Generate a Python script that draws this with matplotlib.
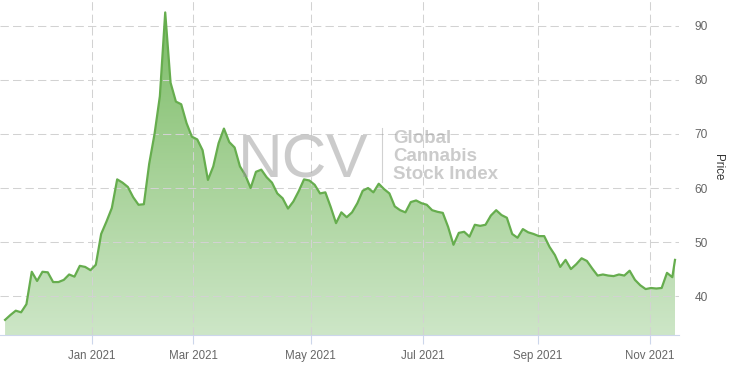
import numpy as np
import pandas as pd
import matplotlib
matplotlib.use("Agg")
import matplotlib.pyplot as plt
from matplotlib.colors import LinearSegmentedColormap

plt.rcParams['font.family'] = ['Liberation Sans', 'DejaVu Sans']

# ---- data: NCV Global Cannabis Stock Index, one year of trading days ----
holidays = ['2020-11-26', '2020-12-25', '2021-01-01', '2021-01-18', '2021-02-15',
            '2021-04-02', '2021-05-31', '2021-07-05', '2021-09-06']
trading_days = pd.bdate_range('2020-11-13', '2021-11-12', freq='C', holidays=holidays)

# price for every second trading day (plus the last day)
price = [
    35.6, 36.5, 37.3, 37.0, 38.5, 44.5, 42.8, 44.5, 44.4, 42.6,
    42.6, 43.0, 44.0, 43.6, 45.6, 45.4, 44.8, 45.8, 51.5, 53.8,
    56.3, 61.6, 61.0, 60.2, 58.3, 56.9, 57.0, 64.5, 70.0, 77.0,
    92.5, 79.5, 76.0, 75.5, 72.0, 69.5, 69.0, 67.0, 61.5, 64.0,
    68.3, 71.0, 68.5, 67.5, 64.0, 62.4, 60.0, 63.0, 63.4, 62.0,
    61.0, 59.0, 58.1, 56.2, 57.5, 59.4, 61.6, 61.4, 60.6, 59.0,
    59.2, 56.5, 53.5, 55.5, 54.6, 55.5, 57.2, 59.5, 60.0, 59.2,
    60.8, 59.8, 59.0, 56.6, 55.9, 55.5, 57.4, 57.7, 57.2, 56.9,
    55.9, 55.6, 55.4, 52.8, 49.5, 51.7, 51.9, 51.0, 53.2, 53.0,
    53.2, 54.9, 55.9, 55.0, 54.5, 51.5, 50.8, 52.4, 51.8, 51.5,
    51.1, 51.1, 49.1, 47.6, 45.4, 46.7, 45.0, 45.9, 47.0, 46.5,
    45.1, 43.8, 44.0, 43.8, 43.7, 44.0, 43.8, 44.7, 43.0, 42.0,
    41.3, 41.5, 41.4, 41.5, 44.3, 43.5, 46.7,
]
sample_idx = np.r_[np.arange(0, len(trading_days), 2), len(trading_days) - 1]
sample_dates = trading_days[sample_idx]

month_ticks = ['2021-01-01', '2021-03-01', '2021-05-01', '2021-07-01', '2021-09-01', '2021-11-01']
month_labels = ['Jan 2021', 'Mar 2021', 'May 2021', 'Jul 2021', 'Sep 2021', 'Nov 2021']
y_ticks = [40, 50, 60, 70, 80, 90]

# ---- figure ----
W, H = 731, 366
fig = plt.figure(figsize=(W / 100, H / 100), dpi=100)
ax = fig.add_axes([0 / W, 31 / H, 679 / W, 335 / H])

# ordinal (trading-day) x positions
x = np.searchsorted(trading_days, sample_dates).astype(float)
vals = np.array(price)
ymin, ymax = 32.8, 94.8
xmin, xmax = -1.9, len(trading_days) - 1 + 1.5
ax.set_xlim(xmin, xmax)
ax.set_ylim(ymin, ymax)

# gradient area fill
poly = ax.fill_between(x, vals, ymin, facecolor='none', edgecolor='none')
path = poly.get_paths()[0]
cmap = LinearSegmentedColormap.from_list('g', ['#cde6c7', '#a5d196', '#78ba62'])
grad = np.linspace(0, 1, 256).reshape(-1, 1)
im = ax.imshow(grad, extent=[xmin, xmax, ymin, ymax], origin='lower',
               aspect='auto', cmap=cmap, zorder=1, interpolation='bicubic')
im.set_clip_path(path, transform=ax.transData)

ax.plot(x, vals, color='#66ad4e', lw=1.6, zorder=4, solid_joinstyle='round')

# ticks
tick_pos = np.searchsorted(trading_days, pd.to_datetime(month_ticks)) - 0.5
ax.set_xticks(tick_pos)
ax.set_xticklabels(month_labels)
ax.tick_params(axis='x', length=6.5, width=0.8, color='#ccd6eb', pad=4,
               labelsize=8.3, labelcolor='#666666')

ax.yaxis.tick_right()
ax.set_yticks(y_ticks)
ax.tick_params(axis='y', length=0, pad=11, labelsize=8.6, labelcolor='#666666')
ax.yaxis.set_label_position('right')
ax.set_ylabel('Price', rotation=270, fontsize=8.3, color='#333333', labelpad=12)

ax.grid(True, color='#d2d2d2', linestyle=(0, (8, 4)), linewidth=0.75)
ax.set_axisbelow(False)
for g in ax.get_xgridlines() + ax.get_ygridlines():
    g.set_zorder(2.5)

for s in ['top', 'left', 'right']:
    ax.spines[s].set_visible(False)
ax.spines['bottom'].set_color('#ccd6eb')
ax.spines['bottom'].set_linewidth(0.8)

# watermark
ax.text(238 / 679, 1 - 177 / 335, 'NCV', transform=ax.transAxes, fontsize=44.6,
        color='#999999', alpha=0.5, ha='left', va='baseline', zorder=5)
ax.plot([382 / 679, 382 / 679], [1 - 128 / 335, 1 - 182 / 335], transform=ax.transAxes,
        color='#999999', alpha=0.45, lw=0.8, zorder=5)
for txt, by in [('Global', 143), ('Cannabis', 161), ('Stock Index', 179)]:
    ax.text(393 / 679, 1 - by / 335, txt, transform=ax.transAxes, fontsize=13.5,
            fontweight='bold', color='#999999', alpha=0.5, ha='left', va='baseline', zorder=5)

fig.savefig('out.png', dpi=100)
